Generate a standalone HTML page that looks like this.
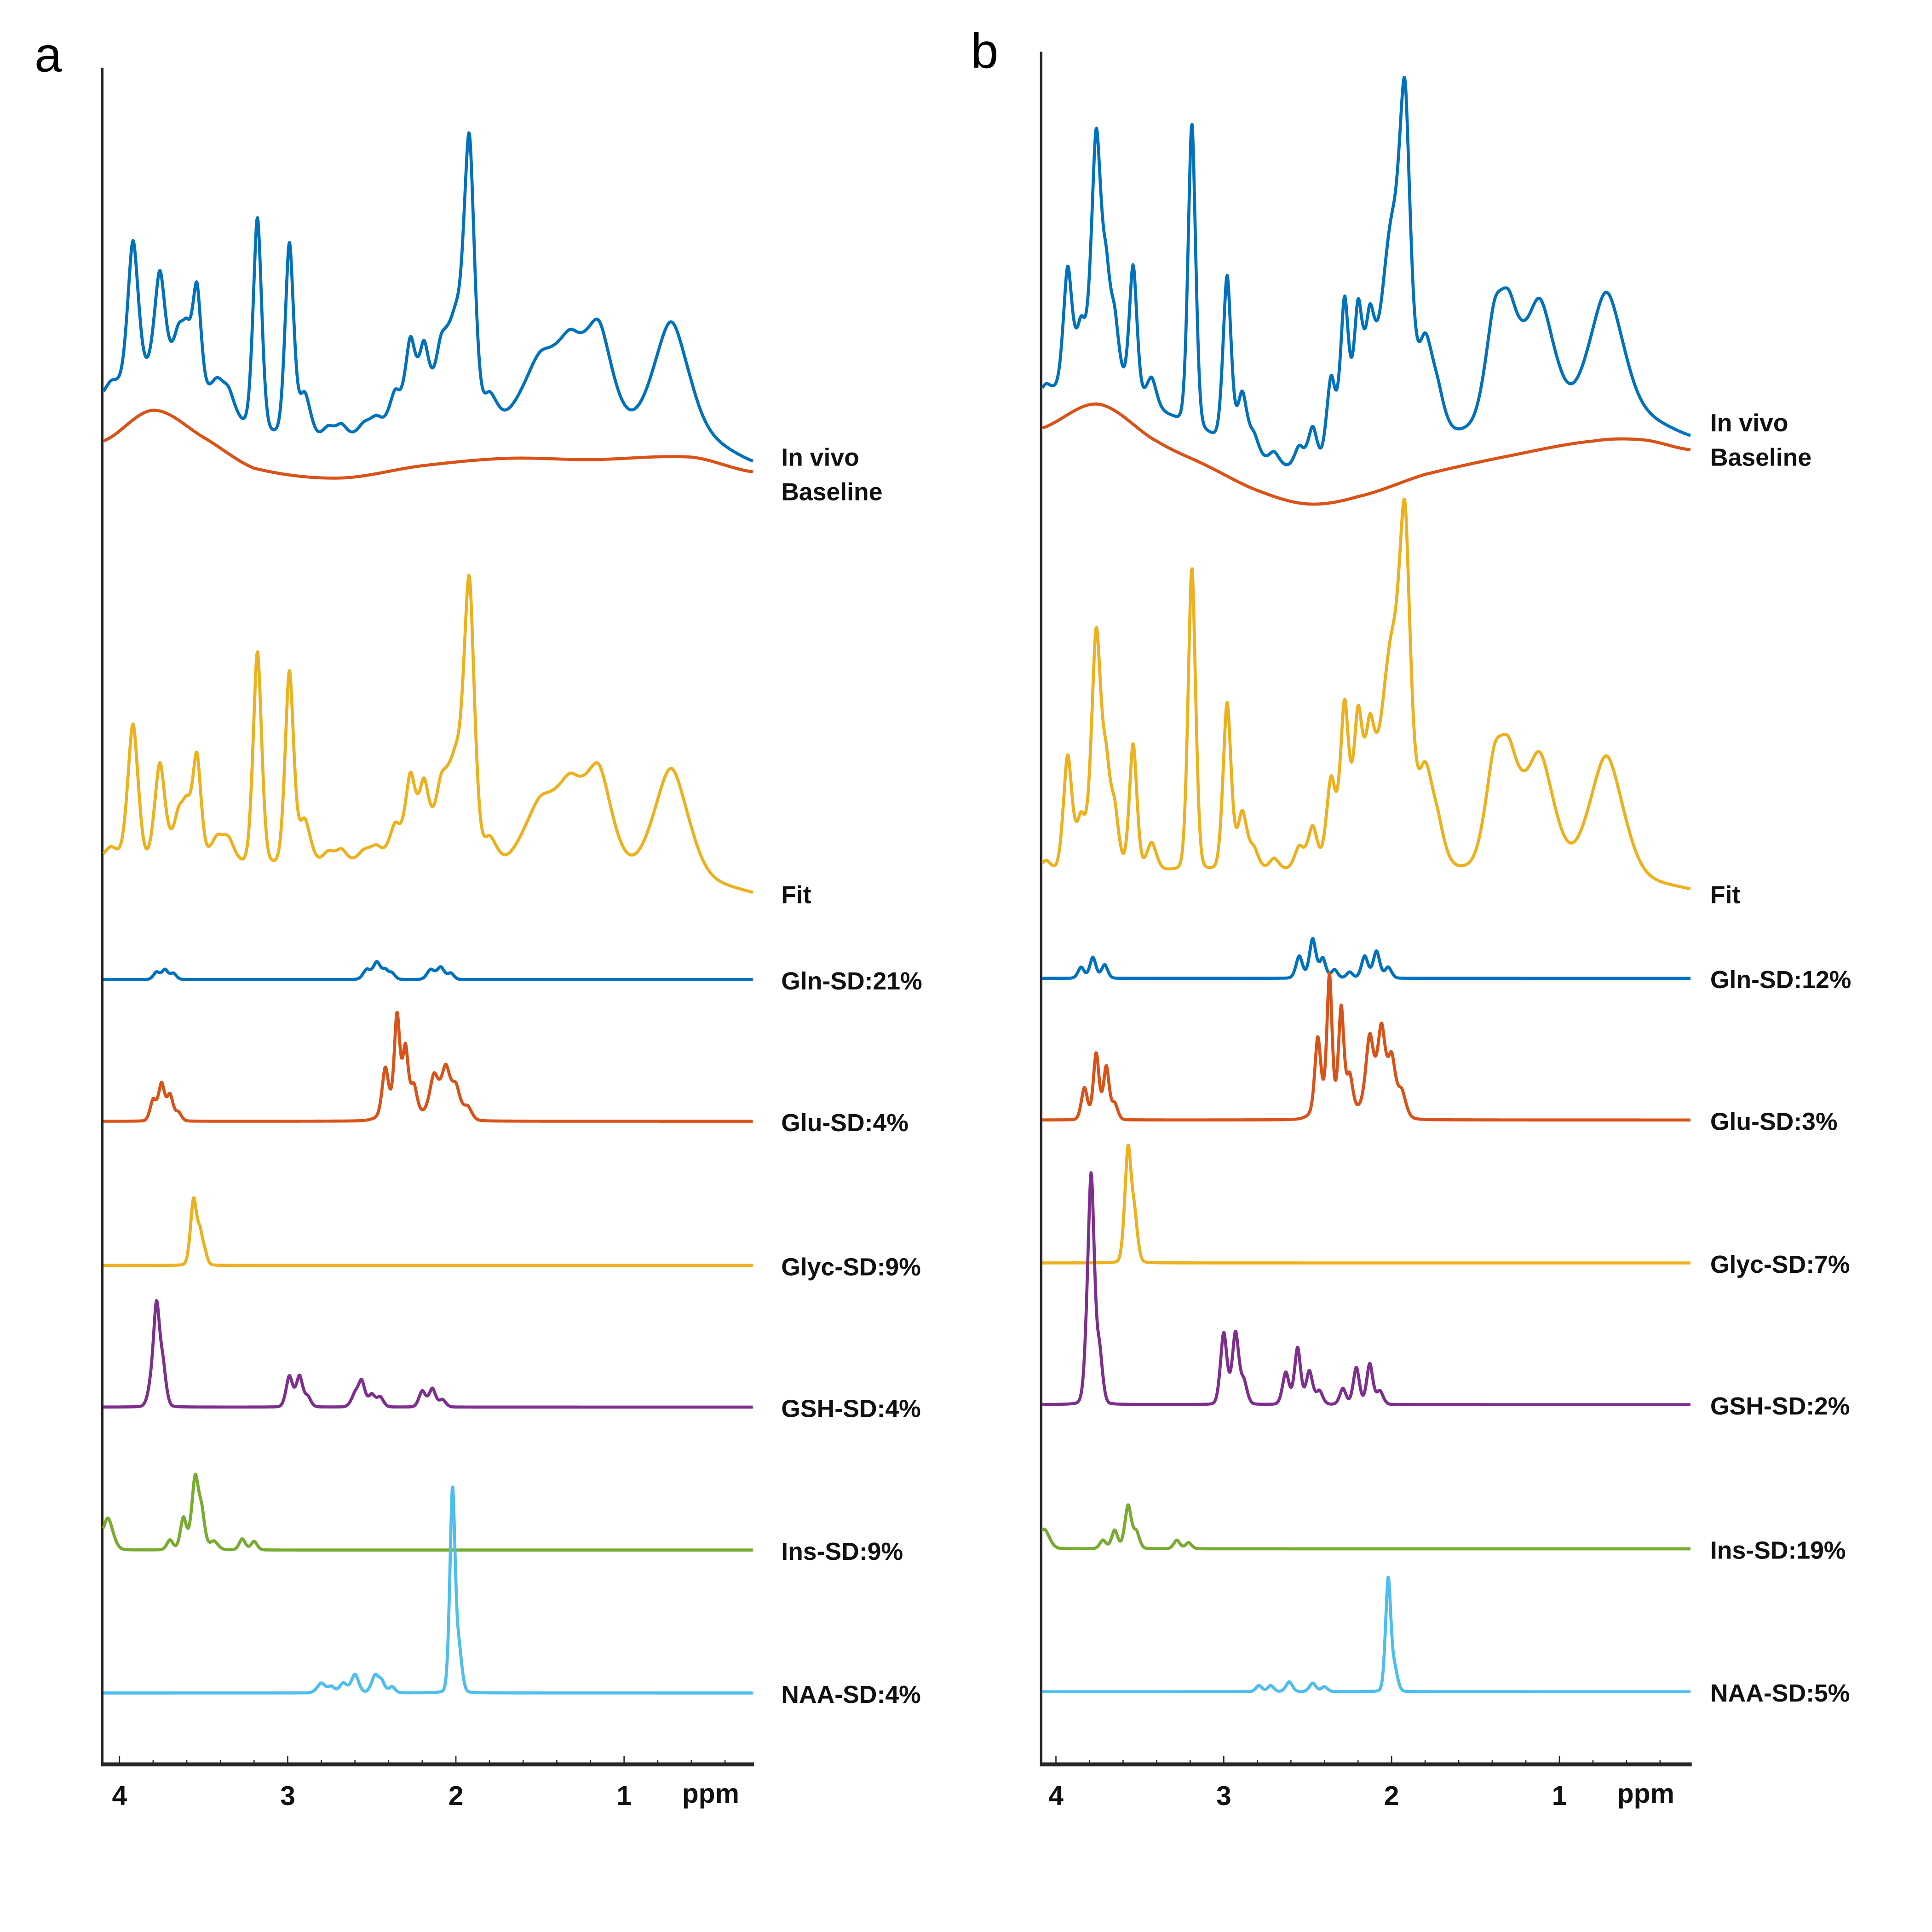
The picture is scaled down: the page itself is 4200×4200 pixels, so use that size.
<!DOCTYPE html>
<html><head><meta charset="utf-8"><style>
html,body{margin:0;padding:0;background:#fff}
svg{display:block}
text{font-family:"Liberation Sans Narrow","Liberation Sans",sans-serif}
</style></head><body>
<svg id="fig" width="4200" height="4200" viewBox="0 0 1568 1568" xmlns="http://www.w3.org/2000/svg">
<text x="28" y="58" font-size="40" style="font-family:'Liberation Sans',sans-serif">a</text>
<text x="788" y="55" font-size="40" style="font-family:'Liberation Sans',sans-serif">b</text>
<g id="plot"></g>
</svg>
<script>
// ---- data (ppm, amplitude, width) ----
const fitPeaksA = [[4.05,12,.03],[3.92,112,.022],[3.76,80,.022],[3.65,36,.025],[3.6,34,.02],[3.54,84,.018],[3.42,20,.03],[3.35,16,.025],[3.18,172,.018],[2.99,155,.018],[2.9,36,.025],[2.76,10,.025],[2.68,12,.025],[2.55,10,.03],[2.47,14,.03],[2.36,32,.025],[2.27,70,.022],[2.19,62,.022],[2.09,55,.03],[2.0,80,.035],[1.92,212,.022],[1.8,22,.03],[1.5,50,.07],[1.32,58,.06],[1.15,75,.055],[0.72,86,.07]];
const fitBaseA = [[4.1,700],[1.0,706],[0.6,712],[0.23,725]];
const baselineA = [[4.1,358],[3.8,333],[3.5,355],[3.2,380],[2.7,388],[2.2,378],[1.7,372],[1.2,373],[0.6,371],[0.23,383]];
const glnA = [[3.78,6,.015],[3.73,8,.015],[3.68,5,.015],[2.53,8,.018],[2.47,14,.018],[2.42,7,.015],[2.38,5,.015],[2.15,8,.018],[2.09,10,.018],[2.03,5,.015]];
const gluA = [[3.8,17,.015],[3.75,30,.015],[3.7,21,.015],[3.65,7,.015],[2.42,36,.015],[2.35,72,.013],[2.3,46,.013],[2.25,20,.015],[2.13,28,.02],[2.06,32,.02],[2.0,22,.02],[1.93,10,.02],[2.33,16,.06],[2.08,12,.06]];
const glycA = [[3.56,52,.015],[3.52,24,.015],[3.49,6,.012]];
const gshA = [[3.82,10,.015],[3.78,82,.016],[3.74,28,.015],[2.99,25,.016],[2.93,25,.016],[2.88,8,.015],[2.6,10,.018],[2.56,20,.016],[2.5,10,.016],[2.45,8,.016],[2.2,13,.016],[2.14,15,.016],[2.08,6,.016]];
const insA = [[4.07,26,.025],[3.7,8,.015],[3.62,26,.015],[3.55,58,.017],[3.51,26,.015],[3.44,7,.02],[3.27,9,.015],[3.2,7,.015]];
const naaA = [[2.02,165,.013],[1.98,32,.014],[2.8,8,.02],[2.74,5,.015],[2.67,8,.018],[2.6,15,.018],[2.48,14,.018],[2.44,8,.015],[2.38,5,.015]];

const fitPeaksB = [[4.06,8,.02],[3.93,92,.018],[3.85,42,.02],[3.76,190,.02],[3.7,70,.018],[3.65,44,.018],[3.54,102,.016],[3.43,22,.02],[3.19,245,.016],[2.98,135,.017],[2.89,46,.02],[2.82,16,.02],[2.7,9,.02],[2.55,18,.02],[2.47,34,.02],[2.36,72,.02],[2.28,130,.018],[2.2,118,.02],[2.13,80,.02],[2.0,180,.05],[1.92,200,.022],[1.8,75,.035],[1.72,22,.03],[1.39,70,.04],[1.3,74,.045],[1.12,92,.06],[0.72,96,.07]];
const fitBaseB = [[4.1,707],[1.0,706],[0.6,712],[0.22,722]];
const baselineB = [[4.1,348],[3.75,328],[3.4,358],[3.1,378],[2.8,398],[2.5,409],[2.2,403],[1.8,385],[1.3,370],[0.8,358],[0.5,357],[0.22,365]];
const glnB = [[3.85,9,.015],[3.78,17,.015],[3.71,11,.015],[2.55,18,.016],[2.47,32,.016],[2.41,16,.015],[2.34,7,.015],[2.25,5,.015],[2.16,18,.016],[2.09,22,.016],[2.02,9,.016]];
const gluB = [[3.83,26,.015],[3.76,54,.014],[3.7,43,.014],[3.65,13,.015],[2.44,56,.014],[2.37,100,.012],[2.3,82,.013],[2.25,30,.015],[2.13,52,.018],[2.06,60,.018],[2.0,42,.018],[1.94,20,.02],[2.1,18,.07],[2.38,18,.05]];
const glycB = [[3.57,92,.016],[3.53,32,.015]];
const gshB = [[3.82,16,.015],[3.79,182,.016],[3.74,40,.015],[3.0,58,.016],[2.93,58,.016],[2.88,18,.016],[2.63,26,.016],[2.56,46,.015],[2.49,27,.016],[2.43,11,.016],[2.29,13,.015],[2.21,30,.015],[2.13,33,.015],[2.07,11,.016]];
const insB = [[4.07,16,.025],[3.72,7,.015],[3.65,15,.015],[3.57,35,.016],[3.52,13,.015],[3.28,7,.015],[3.21,5,.015]];
const naaB = [[2.02,92,.013],[1.98,17,.014],[2.79,5,.015],[2.72,5,.015],[2.61,8,.016],[2.47,7,.016],[2.4,4,.015]];

const tickMajor = [4,3,2,1];
const invivoOffset = 28;
const fitWidthScale = 1.5;
const metWidthScale = 1.3;

// ---- helpers ----
const NS='http://www.w3.org/2000/svg';
const plot=document.getElementById('plot');
const panels={
 a:{x0:97,scale:136.5,left:83,right:611,top:55,bottom:1432,labelX:634},
 b:{x0:857,scale:136.2,left:845,right:1372,top:42,bottom:1432,labelX:1388}
};
function xOf(p,ppm){return p.x0+(4-ppm)*p.scale;}
function ppmOf(p,x){return 4-(x-p.x0)/p.scale;}
function peakSum(peaks,ppm,ws){
 let s=0;
 for(const [c,h,w0] of peaks){const w=w0*ws;const d=(ppm-c)/w;s+=h*(0.8*Math.exp(-0.5*d*d)+0.2/(1+d*d*2));}
 return s;
}
function lin(pts,ppm){
 if(ppm>=pts[0][0])return pts[0][1];
 for(let i=0;i<pts.length-1;i++){const [a,va]=pts[i],[b,vb]=pts[i+1];
  if(ppm<=a&&ppm>=b)return va+(vb-va)*(a-ppm)/(a-b);}
 return pts[pts.length-1][1];
}
function smooth(pts,ppm){
 const n=pts.length;
 if(ppm>=pts[0][0])return pts[0][1];
 if(ppm<=pts[n-1][0])return pts[n-1][1];
 let i=0;while(i<n-2&&ppm<pts[i+1][0])i++;
 const p0=pts[Math.max(0,i-1)][1],p1=pts[i][1],p2=pts[i+1][1],p3=pts[Math.min(n-1,i+2)][1];
 const t=(pts[i][0]-ppm)/(pts[i][0]-pts[i+1][0]);
 return 0.5*((2*p1)+(-p0+p2)*t+(2*p0-5*p1+4*p2-p3)*t*t+(-p0+3*p1-3*p2+p3)*t*t*t);
}
function curve(p,fn){
 let d='';
 for(let x=p.left+1;x<=p.right;x+=0.5){const y=fn(ppmOf(p,x));d+=(d?'L':'M')+x.toFixed(1)+','+y.toFixed(2);}
 return d;
}
function addPath(d,color,name){
 const el=document.createElementNS(NS,'path');
 el.setAttribute('d',d);el.setAttribute('fill','none');el.setAttribute('stroke',color);
 el.setAttribute('stroke-width','2.5');el.setAttribute('stroke-linejoin','round');
 
 
 plot.appendChild(el);
}
function addText(x,y,str,size,weight,name,anchor){
 const t=document.createElementNS(NS,'text');
 t.setAttribute('x',x);t.setAttribute('y',y);t.setAttribute('font-size',size);
 t.setAttribute('font-weight',weight);if(anchor)t.setAttribute('text-anchor',anchor);
 t.setAttribute('fill','#111');t.textContent=str;
 
 
 plot.appendChild(t);
}
function addLine(x1,y1,x2,y2,w,name){
 const l=document.createElementNS(NS,'line');
 l.setAttribute('x1',x1);l.setAttribute('y1',y1);l.setAttribute('x2',x2);l.setAttribute('y2',y2);
 l.setAttribute('stroke','#262626');l.setAttribute('stroke-width',w);
 
 
 plot.appendChild(l);
}

function drawPanel(key,d){
 const p=panels[key];
 addLine(p.left,p.top,p.left,p.bottom,2,'y-axis-'+key);
 addLine(p.left-1,p.bottom,p.right+1,p.bottom,3.2,'x-axis-'+key);
 for(let k=0;k<=18;k++){const ppm=4-k*0.2;if(ppm<ppmOf(p,p.right))break;
  const x=xOf(p,ppm);const major=Math.abs(ppm-Math.round(ppm))<1e-6;
  addLine(x,p.bottom,x,p.bottom-(major?7:3.5),1,'x-tick-'+key);}
 for(const v of tickMajor){addText(xOf(p,v),p.bottom+33,String(v),22,'bold','x-tick-label-'+key,'middle');}
 addText(xOf(p,0.5)+2,p.bottom+31,'ppm',22,'bold','x-axis-unit-'+key,'middle');
 const fitSig=ppm=>peakSum(d.fit,ppm,fitWidthScale);
 const fitY=ppm=>lin(d.fitBase,ppm)-fitSig(ppm);
 const baseY=ppm=>smooth(d.baseline,ppm);
 const invivoY=ppm=>baseY(ppm)-fitSig(ppm)-invivoOffset+(lin(d.fitBase,ppm)-705);
 addPath(curve(p,invivoY),'#0072BD','invivo-spectrum-'+key);
 addPath(curve(p,baseY),'#D95319','baseline-curve-'+key);
 addPath(curve(p,fitY),'#EDB120','fit-spectrum-'+key);
 addText(p.labelX,d.lbl[0],'In vivo',20,'bold','invivo-label-'+key);
 addText(p.labelX,d.lbl[1],'Baseline',20,'bold','baseline-label-'+key);
 addText(p.labelX,d.lbl[2],'Fit',20,'bold','fit-label-'+key);
 for(const m of d.mets){
  addPath(curve(p,ppm=>m.base-peakSum(m.peaks,ppm,metWidthScale)),m.color,m.name+'-spectrum-'+key);
  addText(p.labelX,m.base+8,m.label,20,'bold',m.name+'-label-'+key);
 }
}
drawPanel('a',{fit:fitPeaksA,fitBase:fitBaseA,baseline:baselineA,lbl:[378,406,733],mets:[
 {name:'gln',peaks:glnA,base:795,color:'#0072BD',label:'Gln-SD:21%'},
 {name:'glu',peaks:gluA,base:910,color:'#D95319',label:'Glu-SD:4%'},
 {name:'glyc',peaks:glycA,base:1027,color:'#EDB120',label:'Glyc-SD:9%'},
 {name:'gsh',peaks:gshA,base:1142,color:'#7E2F8E',label:'GSH-SD:4%'},
 {name:'ins',peaks:insA,base:1258,color:'#77AC30',label:'Ins-SD:9%'},
 {name:'naa',peaks:naaA,base:1374,color:'#4DBEEE',label:'NAA-SD:4%'}]});
drawPanel('b',{fit:fitPeaksB,fitBase:fitBaseB,baseline:baselineB,lbl:[350,378,733],mets:[
 {name:'gln',peaks:glnB,base:794,color:'#0072BD',label:'Gln-SD:12%'},
 {name:'glu',peaks:gluB,base:909,color:'#D95319',label:'Glu-SD:3%'},
 {name:'glyc',peaks:glycB,base:1025,color:'#EDB120',label:'Glyc-SD:7%'},
 {name:'gsh',peaks:gshB,base:1140,color:'#7E2F8E',label:'GSH-SD:2%'},
 {name:'ins',peaks:insB,base:1257,color:'#77AC30',label:'Ins-SD:19%'},
 {name:'naa',peaks:naaB,base:1373,color:'#4DBEEE',label:'NAA-SD:5%'}]});
</script>
</body></html>
